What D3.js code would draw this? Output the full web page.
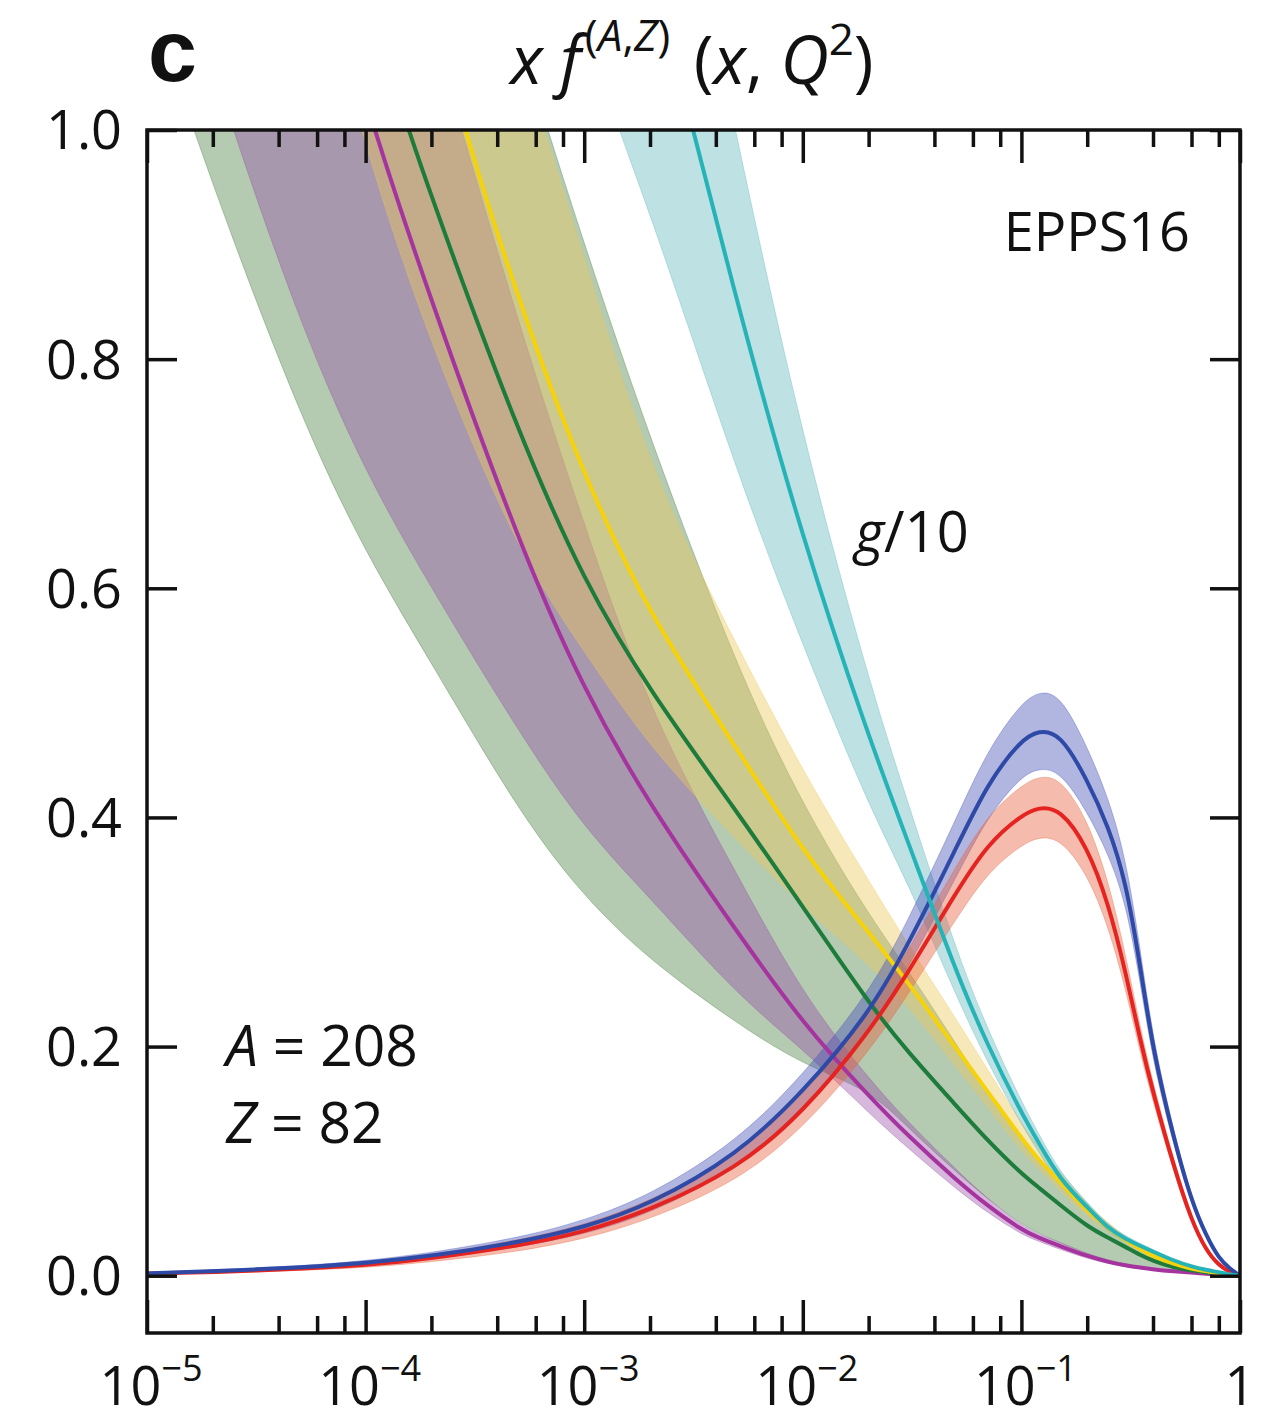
<!DOCTYPE html>
<html>
<head>
<meta charset="utf-8">
<script src="https://cdn.jsdelivr.net/npm/d3@7"></script>
<style>
  body { margin: 0; background: #fff; }
  text { font-family: "Open Sans", sans-serif; fill: #111; }
</style>
</head>
<body>
<script>
// x grid shared by all curves
const xs = [1e-5, 2e-5, 5e-5, 1e-4, 2e-4, 5e-4, 1e-3, 2e-3, 5e-3, 0.01, 0.02, 0.03, 0.05, 0.07, 0.1, 0.12, 0.15, 0.2, 0.25, 0.3, 0.35, 0.4, 0.5, 0.6, 0.7, 0.8, 0.9, 1]

// blue
const blueMid = [.002,.004,.007,.011,.017,.029,.042,.062,.105,.160,.228,.287,.372,.430,.468,.476,.474,.433,.392,.345,.270,.196,.118,.065,.035,.015,.006,0]
const blueLo  = [.0015,.003,.0055,.009,.014,.025,.036,.054,.093,.146,.211,.267,.347,.401,.436,.443,.441,.405,.368,.326,.256,.186,.112,.062,.033,.014,.005,0]
const blueHi  = [.0025,.005,.0085,.013,.020,.033,.048,.070,.117,.175,.246,.308,.398,.459,.500,.510,.508,.462,.417,.365,.285,.206,.124,.069,.037,.016,.007,0]

// red
const redMid = [.002,.003,.006,.009,.015,.026,.038,.057,.093,.142,.212,.263,.334,.377,.402,.409,.408,.375,.325,.265,.205,.160,.094,.048,.022,.009,.003,0]
const redLo  = [.0013,.0022,.0045,.007,.012,.021,.032,.049,.082,.128,.195,.244,.311,.352,.376,.383,.382,.351,.305,.250,.194,.152,.089,.045,.020,.008,.003,0]
const redHi  = [.0027,.004,.0075,.011,.018,.031,.044,.065,.104,.156,.229,.282,.357,.402,.428,.436,.435,.399,.345,.280,.216,.168,.099,.051,.024,.010,.004,0]

// magenta
const magMid = [1.8,1.55,1.23,1.02,.85,.64,.51,.41,.30,.22,.157,.123,.084,.061,.040,.033,.026,.017,.012,.009,.007,.0055,.0038,.0027,.0018,.001,.0005,0]
const magLo  = [1.25,1.05,.83,.70,.60,.475,.39,.33,.245,.198,.142,.112,.076,.055,.036,.030,.023,.015,.0105,.008,.006,.0048,.0033,.0023,.0015,.0008,.0004,0]
const magHi  = [2.5,2.1,1.7,1.3,1.09,.83,.655,.49,.35,.245,.172,.135,.093,.067,.044,.036,.029,.019,.0135,.010,.008,.0062,.0043,.003,.002,.0012,.0006,0]

// green
const grnMid = [2.0,1.7,1.38,1.11,.94,.735,.605,.51,.405,.322,.238,.196,.149,.118,.089,.077,.062,.043,.033,.025,.018,.013,.007,.0045,.003,.0017,.0008,0]
const grnLo  = [1.12,.95,.75,.63,.535,.405,.33,.275,.22,.184,.163,.130,.091,.067,.045,.037,.029,.019,.0135,.010,.0075,.0058,.004,.0028,.0019,.0011,.0005,0]
const grnHi  = [3.0,2.5,2.0,1.6,1.35,1.08,.90,.73,.53,.41,.315,.268,.203,.16,.118,.101,.080,.055,.042,.031,.023,.017,.010,.006,.004,.0022,.001,0]

// yellow
const ylwMid = [2.3,2.0,1.6,1.38,1.09,.849,.697,.575,.46,.37,.30,.257,.199,.161,.12,.101,.082,.056,.042,.031,.023,.017,.010,.006,.004,.002,.001,0]
const ylwLo  = [1.8,1.5,1.2,.98,.81,.63,.545,.46,.38,.322,.272,.237,.183,.148,.109,.093,.075,.051,.038,.028,.021,.0155,.009,.0055,.0036,.0018,.0009,0]
const ylwHi  = [2.9,2.5,2.0,1.7,1.35,1.07,.89,.70,.55,.44,.345,.29,.225,.18,.133,.112,.091,.062,.046,.034,.025,.019,.011,.0066,.0044,.0022,.0011,0]

// gluon / 10 (cyan)
const glMid = [3.3,3.0,2.6,2.3,2.0,1.6,1.35,1.15,.847,.642,.47,.381,.266,.201,.142,.116,.084,.060,.041,.032,.026,.021,.013,.008,.005,.003,.001,0]
const glLo  = [2.7,2.4,2.1,1.85,1.6,1.28,1.08,.93,.70,.55,.41,.345,.245,.186,.132,.108,.078,.056,.038,.029,.024,.019,.012,.0074,.0046,.0027,.0009,0]
const glHi  = [3.9,3.6,3.1,2.75,2.4,1.92,1.62,1.36,.99,.73,.52,.415,.285,.215,.152,.124,.090,.064,.044,.035,.028,.023,.014,.0086,.0054,.0033,.0011,0]

const yTicks = [0, 0.2, 0.4, 0.6, 0.8, 1.0]
const xMajor = [1e-5, 1e-4, 1e-3, 1e-2, 1e-1, 1]
const xLabels = [["10", "\u22125"], ["10", "\u22124"], ["10", "\u22123"], ["10", "\u22122"], ["10", "\u22121"], ["1", ""]]

const series = [
  { name: "green",   mid: grnMid, lo: grnLo, hi: grnHi, line: "#1d7b3b", band: "#447a3c", op: 0.4 },
  { name: "magenta", mid: magMid, lo: magLo, hi: magHi, line: "#a5349f", band: "#964da7", op: 0.4 },
  { name: "yellow",  mid: ylwMid, lo: ylwLo, hi: ylwHi, line: "#f5d20a", band: "#ebc85a", op: 0.42 },
  { name: "cyan",    mid: glMid,  lo: glLo,  hi: glHi,  line: "#26b3b7", band: "#5cb4bb", op: 0.4 },
  { name: "blue",    mid: blueMid, lo: blueLo, hi: blueHi, line: "#2e4aa6", band: "#4450b8", op: 0.42 },
  { name: "red",     mid: redMid, lo: redLo, hi: redHi, line: "#e52421", band: "#e8603c", op: 0.42 }
]

const width = 1281
const height = 1423
const pL = 147, pR = 1240, pT = 130, pB = 1333

const x = d3.scaleLog().domain([1e-5, 1]).range([pL, pR])
const y = d3.scaleLinear().domain([-0.05, 1.0]).range([pB, pT])

const svg = d3.select("body").append("svg")
  .attr("width", width)
  .attr("height", height)

svg.append("clipPath").attr("id", "plot-clip")
  .append("rect")
  .attr("x", pL).attr("y", pT)
  .attr("width", pR - pL).attr("height", pB - pT)

const plot = svg.append("g").attr("clip-path", "url(#plot-clip)")

const curve = d3.curveBasis

const area = d3.area()
  .x(function(d) { return x(d.x) })
  .y0(function(d) { return y(d.lo) })
  .y1(function(d) { return y(d.hi) })
  .curve(curve)

const line = d3.line()
  .x(function(d) { return x(d.x) })
  .y(function(d) { return y(d.mid) })
  .curve(curve)

function rows(s) {
  return xs.map(function(v, i) { return { x: v, mid: s.mid[i], lo: s.lo[i], hi: s.hi[i] } })
}

// bands
series.forEach(function(s) {
  plot.append("path")
    .datum(rows(s))
    .attr("d", area)
    .attr("fill", s.band)
    .attr("fill-opacity", s.op)
    .attr("stroke", s.band)
    .attr("stroke-opacity", 0.35)
    .attr("stroke-width", 1)
})

// central lines
const lineOrder = ["magenta", "green", "yellow", "red", "blue", "cyan"]
lineOrder.forEach(function(n) {
  const s = series.find(function(d) { return d.name === n })
  plot.append("path")
    .datum(rows(s))
    .attr("d", line)
    .attr("fill", "none")
    .attr("stroke", s.line)
    .attr("stroke-width", 4)
})

// axes (ticks pointing inwards)
const xMinor = []
for (let e = -5; e < 0; e++) {
  [2, 4, 6, 8].forEach(function(m) { xMinor.push(m * Math.pow(10, e)) })
}

function styleAxis(g) {
  g.select(".domain").remove()
  g.selectAll(".tick line").attr("stroke", "#111").attr("stroke-width", 3.5)
}

svg.append("g").attr("transform", "translate(0," + pB + ")")
  .call(d3.axisBottom(x).tickValues(xMajor).tickSize(-33).tickFormat("")).call(styleAxis)
svg.append("g").attr("transform", "translate(0," + pB + ")")
  .call(d3.axisBottom(x).tickValues(xMinor).tickSize(-17).tickFormat("")).call(styleAxis)
svg.append("g").attr("transform", "translate(0," + pT + ")")
  .call(d3.axisTop(x).tickValues(xMajor).tickSize(-33).tickFormat("")).call(styleAxis)
svg.append("g").attr("transform", "translate(0," + pT + ")")
  .call(d3.axisTop(x).tickValues(xMinor).tickSize(-17).tickFormat("")).call(styleAxis)
svg.append("g").attr("transform", "translate(" + pL + ",0)")
  .call(d3.axisLeft(y).tickValues(yTicks).tickSize(-30).tickFormat("")).call(styleAxis)
svg.append("g").attr("transform", "translate(" + pR + ",0)")
  .call(d3.axisRight(y).tickValues(yTicks).tickSize(-30).tickFormat("")).call(styleAxis)

// frame
svg.append("rect")
  .attr("x", pL).attr("y", pT)
  .attr("width", pR - pL).attr("height", pB - pT)
  .attr("fill", "none")
  .attr("stroke", "#111")
  .attr("stroke-width", 3.5)

// y tick labels
svg.selectAll(".ylab")
  .data(yTicks)
  .enter()
  .append("text")
  .attr("class", "ylab")
  .attr("x", 122)
  .attr("y", function(d) { return y(d) })
  .attr("dy", "0.36em")
  .attr("text-anchor", "end")
  .style("font-size", "54px")
  .text(function(d) { return d.toFixed(1) })

// x tick labels
xMajor.forEach(function(v, i) {
  const t = svg.append("text")
    .attr("x", x(v) + (xLabels[i][1] ? 4 : 0))
    .attr("y", 1405)
    .attr("text-anchor", "middle")
    .style("font-size", "54px")
  t.append("tspan").text(xLabels[i][0])
  if (xLabels[i][1]) {
    t.append("tspan")
      .attr("dy", -24)
      .style("font-size", "36px")
      .text(xLabels[i][1])
  }
})

// panel letter
svg.append("text")
  .attr("x", 148)
  .attr("y", 81)
  .style("font-family", "'Liberation Sans', sans-serif")
  .style("font-size", "88px")
  .style("font-weight", "700")
  .text("c")

// title
const title = svg.append("text")
  .attr("x", 692)
  .attr("y", 84)
  .attr("text-anchor", "middle")
  .style("font-size", "67px")
title.append("tspan").style("font-style", "italic").text("x f")
title.append("tspan").attr("dy", -33).attr("dx", 4).style("font-size", "44px").text("(")
title.append("tspan").style("font-size", "44px").style("font-style", "italic").text("A")
title.append("tspan").style("font-size", "44px").text(",")
title.append("tspan").style("font-size", "44px").style("font-style", "italic").text("Z")
title.append("tspan").style("font-size", "44px").text(")")
title.append("tspan").attr("dy", 33).attr("dx", 6).text(" (")
title.append("tspan").style("font-style", "italic").text("x")
title.append("tspan").text(", ")
title.append("tspan").style("font-style", "italic").text("Q")
title.append("tspan").attr("dy", -29).style("font-size", "44px").text("2")
title.append("tspan").attr("dy", 29).text(")")

// annotations
svg.append("text")
  .attr("x", 1190)
  .attr("y", 251)
  .attr("text-anchor", "end")
  .style("font-size", "54px")
  .text("EPPS16")

const g10 = svg.append("text")
  .attr("x", 855)
  .attr("y", 552)
  .style("font-size", "56px")
g10.append("tspan").style("font-style", "italic").text("g")
g10.append("tspan").text("/10")

const aText = svg.append("text").attr("x", 226).attr("y", 1066).style("font-size", "57px")
aText.append("tspan").style("font-style", "italic").text("A")
aText.append("tspan").text(" = 208")

const zText = svg.append("text").attr("x", 226).attr("y", 1143).style("font-size", "57px")
zText.append("tspan").style("font-style", "italic").text("Z")
zText.append("tspan").text(" = 82")
</script>
</body>
</html>
